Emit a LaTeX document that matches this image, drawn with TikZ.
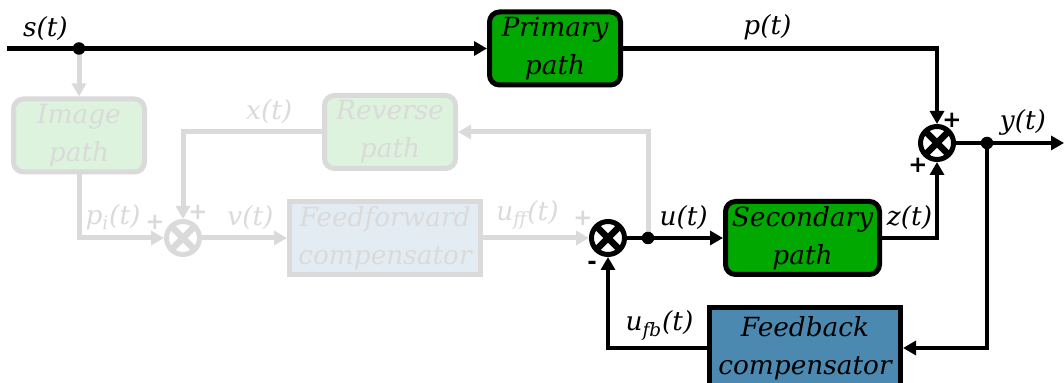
\documentclass[tikz,border=0pt]{standalone}
\usepackage{fontspec}
\setmainfont{DejaVu Serif}
\setsansfont{DejaVu Sans}
\usetikzlibrary{shapes,arrows,arrows.meta,positioning,calc}
\usepackage{xcolor}
\definecolor{prigreen}{RGB}{0,168,0}
\definecolor{palegreen}{RGB}{221,243,221}
\definecolor{fadegray}{RGB}{218,218,218}
\definecolor{paleblue}{RGB}{228,236,243}
\definecolor{fbblue}{RGB}{76,137,176}

\begin{document}
\begin{tikzpicture}[node distance=1cm, font=\fontsize{15}{21.6}\selectfont\itshape]
    \tikzstyle{block} = [rectangle, draw, line width=0.1cm, rounded corners=0.2cm, align=center, minimum width=2.62cm, minimum height=1.46cm, inner sep=0pt]
    \tikzstyle{flatblock} = [block, rounded corners=0pt, minimum width=3.82cm]
    \tikzstyle{faded} = [draw=fadegray, text=fadegray]
    \tikzstyle{sumj} = [circle, draw, line width=0.1cm, minimum size=0.66cm, inner sep=0pt,
        path picture={\draw[line width=0.13cm] ([shift={(-0.3,-0.3)}]path picture bounding box.center) -- ([shift={(0.3,0.3)}]path picture bounding box.center);
                      \draw[line width=0.13cm] ([shift={(-0.3,0.3)}]path picture bounding box.center) -- ([shift={(0.3,-0.3)}]path picture bounding box.center);}]
    \tikzstyle{dot} = [circle, fill, inner sep=0pt, minimum size=0.25cm]
    \tikzstyle{arrow} = [line width=0.09cm, -{Triangle[length=0.26cm,width=0.28cm]}]
    \tikzstyle{fadearrow} = [arrow, fadegray, line width=0.1cm]
    \tikzstyle{sign} = [font=\sffamily\bfseries\upshape\fontsize{13}{13}\selectfont, inner sep=0pt]

    \useasboundingbox (0,0) rectangle (21.28,-7.66);

    % Blocks
    \coordinate (sin) at (0.14,-0.97);
    \coordinate (sdot) at (1.58,-0.97);
    \node[block, fill=prigreen] (prim) at (11.10,-0.97) {Primary\\path};
    \node[block, faded, fill=palegreen, below of=sdot, yshift=-0.74cm] (img) {Image\\path};
    \node[sumj, color=fadegray] (sum0) at (3.66,-4.76) {};
    \node[flatblock, faded, fill=paleblue, right of=sum0, xshift=3.04cm] (ffc) {Feedforward\\compensator};
    \node[block, faded, fill=palegreen] (rev) at (7.80,-2.64) {Reverse\\path};
    \node[sumj] (sum1) at (12.16,-4.76) {};
    \coordinate[right of=sum1, xshift=-0.2cm] (udot);
    \node[block, fill=prigreen, minimum width=3.08cm, right of=sum1, xshift=2.89cm] (sec) {Secondary\\path};
    \node[sumj] (sum2) at (18.74,-2.86) {};
    \coordinate[right of=sum2] (ydot);
    \coordinate (yout) at (21.28,-2.86);
    \node[flatblock, fill=fbblue, minimum height=1.62cm] (fbc) at (16.10,-6.96) {Feedback\\compensator};

    % Signs
    \node[sign] (s2a) at ([shift={(0.30,0.46)}]sum2) {+};
    \node[sign] (s2b) at ([shift={(-0.38,-0.44)}]sum2) {+};
    \node[sign, fadegray] (s1a) at ([shift={(-0.50,0.40)}]sum1) {+};
    \node[sign] (s1b) at ([shift={(-0.32,-0.54)}]sum1) {-};
    \node[sign, fadegray] (s0a) at ([shift={(-0.56,0.32)}]sum0) {+};
    \node[sign, fadegray] (s0b) at ([shift={(0.30,0.52)}]sum0) {+};

    % Faded paths
    \draw[fadearrow] (sdot) -- (img);
    \draw[fadearrow] (img.south) |- node[above, pos=0.7] {p\textsubscript{i}(t)} (sum0.west);
    \draw[fadearrow] (sum0) -- node[above, pos=0.57] {v(t)} (ffc);
    \draw[fadearrow] (ffc) -- node[above, pos=0.42] {u\textsubscript{ff}(t)} (sum1);
    \draw[fadearrow] (udot) |- (rev.east);
    \draw[fadearrow] (rev.west) -| node[above, pos=0.19] {x(t)} (sum0.north);

    % Active paths
    \draw[arrow] (sin) -- node[above, pos=0.08] {s(t)} (prim);
    \draw[arrow] (prim.east) -| node[above, pos=0.23] {p(t)} (sum2.north);
    \draw[arrow] (sum2) -- node[above, pos=0.62] {y(t)} (yout);
    \draw[arrow] (sum1) -- node[above, pos=0.59] {u(t)} (sec);
    \draw[arrow] (sec.east) -| node[above, pos=0.25] {z(t)} (sum2.south);
    \draw[arrow] (ydot) |- (fbc.east);
    \draw[arrow] (fbc.west) -| node[above, pos=0.24] {u\textsubscript{fb}(t)} (sum1.south);

    % Junctions
    \node[dot] (sjoin) at (sdot) {};
    \node[dot] (ujoin) at (udot) {};
    \node[dot] (yjoin) at (ydot) {};
\end{tikzpicture}
\end{document}
